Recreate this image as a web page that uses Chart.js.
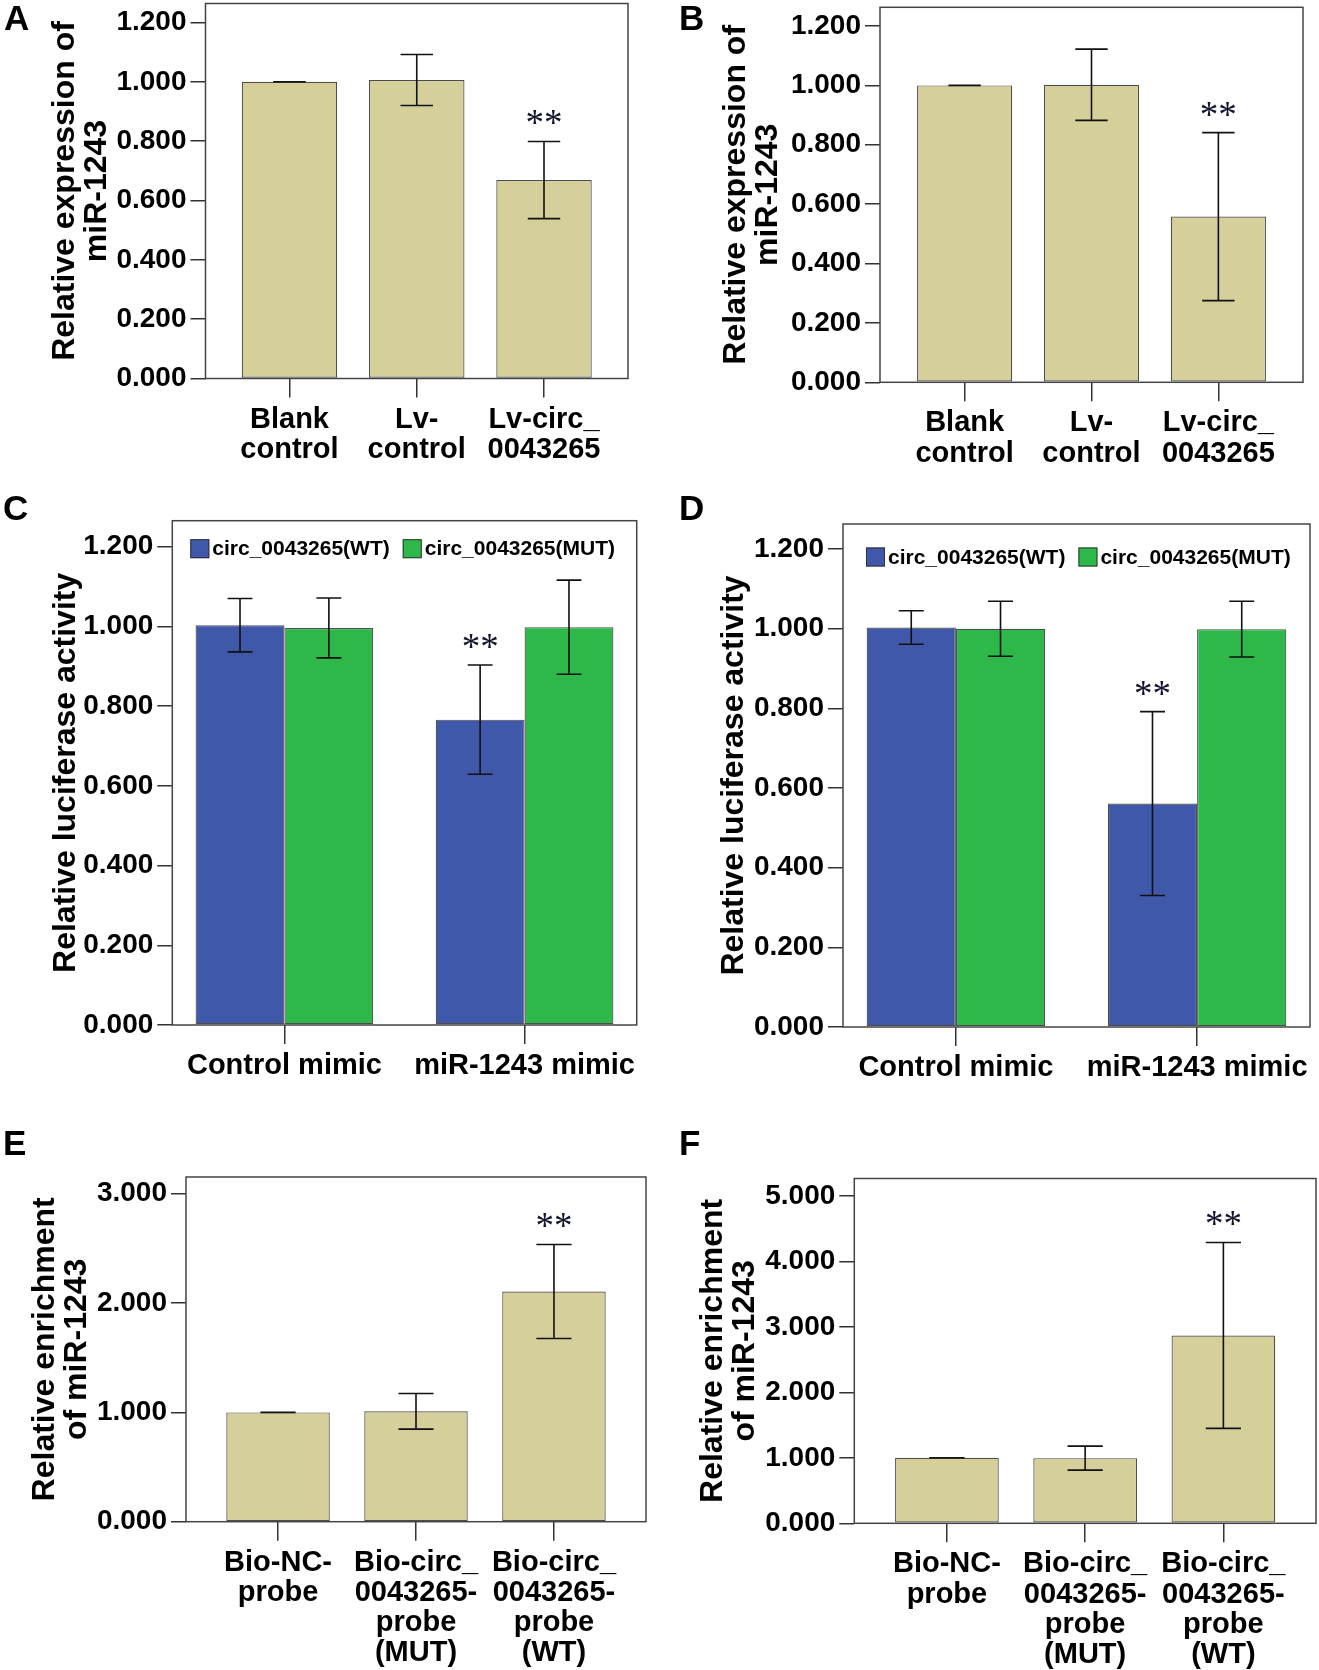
<!DOCTYPE html>
<html>
<head>
<meta charset="utf-8">
<script src="https://cdn.jsdelivr.net/npm/chart.js@4.4.1/dist/chart.umd.min.js"></script>
<style>
  html, body { margin: 0; padding: 0; background: #fff; }
  #page { position: relative; width: 1319px; height: 1670px; overflow: hidden; background: #fff; }
  #page canvas { position: absolute; }
  .tag { position: absolute; font: bold 35px "Liberation Sans", Arial, sans-serif; line-height: 1; color: #000; }
</style>
</head>
<body>
<div id="page">
  <canvas id="chartA"></canvas>
  <canvas id="chartB"></canvas>
  <canvas id="chartC"></canvas>
  <canvas id="chartD"></canvas>
  <canvas id="chartE"></canvas>
  <canvas id="chartF"></canvas>
  <div class="tag" style="left:4px;top:0px">A</div>
  <div class="tag" style="left:679px;top:0px">B</div>
  <div class="tag" style="left:3px;top:490px">C</div>
  <div class="tag" style="left:679px;top:490px">D</div>
  <div class="tag" style="left:3px;top:1125px">E</div>
  <div class="tag" style="left:679px;top:1125px">F</div>
</div>
<script>
// ---- data ----
const groupsAB = [['Blank', 'control'], ['Lv-', 'control'], ['Lv-circ_', '0043265']];
const meanA = [1.000, 1.006, 0.669];
const errA = [0.000, 0.086, 0.130];
const sigA = ['', '', '**'];
const meanB = [1.000, 1.002, 0.558];
const errB = [0.000, 0.120, 0.283];
const sigB = ['', '', '**'];

const groupsCD = ['Control mimic', 'miR-1243 mimic'];
const seriesCD = ['circ_0043265(WT)', 'circ_0043265(MUT)'];
const wtC = [1.003, 0.766];
const wtErrC = [0.067, 0.137];
const mutC = [0.996, 0.998];
const mutErrC = [0.075, 0.118];
const wtD = [1.003, 0.561];
const wtErrD = [0.042, 0.231];
const mutD = [1.000, 0.999];
const mutErrD = [0.069, 0.070];
const sigWt = ['', '**'];
const sigMut = ['', ''];

const groupsEF = [['Bio-NC-', 'probe'], ['Bio-circ_', '0043265-', 'probe', '(MUT)'], ['Bio-circ_', '0043265-', 'probe', '(WT)']];
const meanE = [1.000, 1.010, 2.106];
const errE = [0.000, 0.163, 0.430];
const sigE = ['', '', '**'];
const meanF = [1.000, 0.995, 2.869];
const errF = [0.000, 0.183, 1.420];
const sigF = ['', '', '**'];

const yTicksAD = [0, 0.2, 0.4, 0.6, 0.8, 1.0, 1.2];
const yTicksE = [0, 1, 2, 3];
const yTicksF = [0, 1, 2, 3, 4, 5];

const khaki = '#d5cf99';
const blue = '#3f58aa';
const green = '#2fb84a';
const FONT = '"Liberation Sans", Arial, sans-serif';

// frame round the plot area
const framePlugin = {
  id: 'frame',
  afterDraw(chart) {
    const a = chart.chartArea, ctx = chart.ctx;
    ctx.save();
    ctx.strokeStyle = '#444';
    ctx.lineWidth = 1.5;
    ctx.strokeRect(a.left, a.top, a.right - a.left, a.bottom - a.top);
    ctx.restore();
  }
};

// error bars and significance stars
const errorPlugin = {
  id: 'errbars',
  afterDatasetsDraw(chart) {
    const ctx = chart.ctx, ys = chart.scales.y;
    ctx.save();
    chart.data.datasets.forEach((ds, i) => {
      const meta = chart.getDatasetMeta(i);
      meta.data.forEach((bar, j) => {
        const m = ds.data[j].y, e = ds.errors[j];
        const top = ys.getPixelForValue(m + e);
        const bot = ys.getPixelForValue(m - e);
        const half = bar.width * ds.capRatio / 2;
        ctx.strokeStyle = '#111';
        ctx.lineWidth = 1.6;
        ctx.beginPath();
        ctx.moveTo(bar.x, top); ctx.lineTo(bar.x, bot);
        ctx.moveTo(bar.x - half, top); ctx.lineTo(bar.x + half, top);
        ctx.moveTo(bar.x - half, bot); ctx.lineTo(bar.x + half, bot);
        ctx.stroke();
        if (ds.sig && ds.sig[j]) {
          ctx.fillStyle = '#15152e';
          ctx.font = '37px "Liberation Serif", "Times New Roman", serif';
          ctx.textAlign = 'center';
          ctx.textBaseline = 'alphabetic';
          ctx.fillText(ds.sig[j], bar.x, top - 6);
        }
      });
    });
    ctx.restore();
  }
};

// legend drawn inside the plot frame
const insideLegend = {
  id: 'insideLegend',
  afterDraw(chart, args, opts) {
    if (!opts || !opts.show) return;
    const ctx = chart.ctx, a = chart.chartArea;
    let x = a.left + opts.dx;
    const y = a.top + opts.dy;
    ctx.save();
    ctx.font = 'bold 21px ' + FONT;
    ctx.textBaseline = 'middle';
    ctx.textAlign = 'left';
    chart.data.datasets.forEach(ds => {
      ctx.fillStyle = ds.backgroundColor;
      ctx.fillRect(x, y - 9.5, 19, 19);
      ctx.strokeStyle = '#333';
      ctx.lineWidth = 1;
      ctx.strokeRect(x + 0.5, y - 9, 18, 18);
      x += 22;
      ctx.fillStyle = '#000';
      ctx.fillText(ds.label, x, y + 1);
      x += ctx.measureText(ds.label).width + 13;
    });
    ctx.restore();
  }
};

function barSet(label, values, errors, sig, color, capRatio) {
  return {
    label: label,
    data: values.map((v, i) => ({ x: i, y: v })),
    errors: errors,
    sig: sig,
    capRatio: capRatio,
    backgroundColor: color,
    borderColor: '#4d4d4d',
    borderWidth: 1.2,
    borderSkipped: false
  };
}

function makeChart(id, c) {
  const el = document.getElementById(id);
  el.width = c.w; el.height = c.h;
  el.style.left = c.left + 'px'; el.style.top = c.top + 'px';
  el.style.width = c.w + 'px'; el.style.height = c.h + 'px';
  return new Chart(el, {
    type: 'bar',
    data: { datasets: c.datasets },
    plugins: [framePlugin, errorPlugin, insideLegend],
    options: {
      responsive: false,
      animation: false,
      devicePixelRatio: 1,
      layout: { autoPadding: false, padding: c.pad },
      datasets: { bar: { categoryPercentage: c.catPct, barPercentage: c.barPct } },
      plugins: {
        legend: { display: false },
        tooltip: { enabled: false },
        insideLegend: c.legend || { show: false }
      },
      scales: {
        x: {
          type: 'linear',
          offset: false,
          min: c.xMin, max: c.xMax,
          afterBuildTicks: ax => { ax.ticks = c.groups.map((g, i) => ({ value: i })); },
          afterFit: ax => { ax.height = c.xh; },
          border: { display: false },
          grid: { offset: false, drawOnChartArea: false, tickLength: 19, color: '#333', lineWidth: 1.5 },
          ticks: {
            callback: v => c.groups[v],
            autoSkip: false, maxRotation: 0, minRotation: 0, padding: 7,
            color: '#000',
            font: { family: FONT, size: 29, weight: 'bold', lineHeight: 1.04 }
          }
        },
        y: {
          min: 0, max: c.yMax,
          afterBuildTicks: ax => { ax.ticks = c.yTicks.map(v => ({ value: v })); },
          afterFit: ax => { ax.width = c.yw; },
          border: { display: false },
          grid: { drawOnChartArea: false, tickLength: 15, color: '#333', lineWidth: 1.5 },
          ticks: {
            callback: v => v.toFixed(3),
            autoSkip: false, padding: 4, color: '#000',
            font: { family: FONT, size: 28, weight: 'bold' }
          },
          title: {
            display: true,
            text: c.yTitle,
            color: '#000',
            padding: { top: c.titlePad, bottom: 0 },
            font: { family: FONT, size: 32, weight: 'bold', lineHeight: 1.0 }
          }
        }
      }
    }
  });
}

makeChart('chartA', {
  left: 0, top: -30, w: 660, h: 509, pad: { left: 0, top: 33.5, right: 32, bottom: 0 },
  yw: 205.5, xh: 100.5, titlePad: 49, xMin: -0.66, xMax: 2.66, catPct: 1, barPct: 0.75,
  yMax: 1.264, yTicks: yTicksAD, groups: groupsAB,
  yTitle: ['Relative expression of', 'miR-1243'],
  datasets: [barSet('A', meanA, errA, sigA, khaki, 0.34)]
});

makeChart('chartB', {
  left: 660, top: -30, w: 659, h: 512, pad: { left: 0, top: 37.3, right: 16, bottom: 0 },
  yw: 220, xh: 99.7, titlePad: 60, xMin: -0.667, xMax: 2.667, catPct: 1, barPct: 0.75,
  yMax: 1.263, yTicks: yTicksAD, groups: groupsAB,
  yTitle: ['Relative expression of', 'miR-1243'],
  datasets: [barSet('B', meanB, errB, sigB, khaki, 0.34)]
});

makeChart('chartC', {
  left: 0, top: 490, w: 660, h: 607, pad: { left: 0, top: 30.7, right: 23.3, bottom: 0 },
  yw: 172.3, xh: 72, titlePad: 50, xMin: -0.467, xMax: 1.467, catPct: 0.74, barPct: 1,
  yMax: 1.265, yTicks: yTicksAD, groups: groupsCD,
  yTitle: 'Relative luciferase activity',
  legend: { show: true, dx: 18, dy: 28 },
  datasets: [
    barSet(seriesCD[0], wtC, wtErrC, sigWt, blue, 0.28),
    barSet(seriesCD[1], mutC, mutErrC, sigMut, green, 0.28)
  ]
});

makeChart('chartD', {
  left: 660, top: 490, w: 659, h: 607, pad: { left: 0, top: 34, right: 9, bottom: 0 },
  yw: 183, xh: 70, titlePad: 58, xMin: -0.468, xMax: 1.468, catPct: 0.74, barPct: 1,
  yMax: 1.263, yTicks: yTicksAD, groups: groupsCD,
  yTitle: 'Relative luciferase activity',
  legend: { show: true, dx: 23, dy: 33 },
  datasets: [
    barSet(seriesCD[0], wtD, wtErrD, sigWt, blue, 0.28),
    barSet(seriesCD[1], mutD, mutErrD, sigMut, green, 0.28)
  ]
});

makeChart('chartE', {
  left: 0, top: 1100, w: 660, h: 570, pad: { left: 0, top: 77, right: 14, bottom: 0 },
  yw: 186, xh: 148.3, titlePad: 29, xMin: -0.667, xMax: 2.667, catPct: 1, barPct: 0.75,
  yMax: 3.153, yTicks: yTicksE, groups: groupsEF,
  yTitle: ['Relative enrichment', 'of miR-1243'],
  datasets: [barSet('E', meanE, errE, sigE, khaki, 0.34)]
});

makeChart('chartF', {
  left: 660, top: 1100, w: 659, h: 570, pad: { left: 0, top: 78.5, right: 3, bottom: 0 },
  yw: 194.3, xh: 146.7, titlePad: 37, xMin: -0.67, xMax: 2.67, catPct: 1, barPct: 0.75,
  yMax: 5.266, yTicks: yTicksF, groups: groupsEF,
  yTitle: ['Relative enrichment', 'of miR-1243'],
  datasets: [barSet('F', meanF, errF, sigF, khaki, 0.34)]
});
</script>
</body>
</html>
